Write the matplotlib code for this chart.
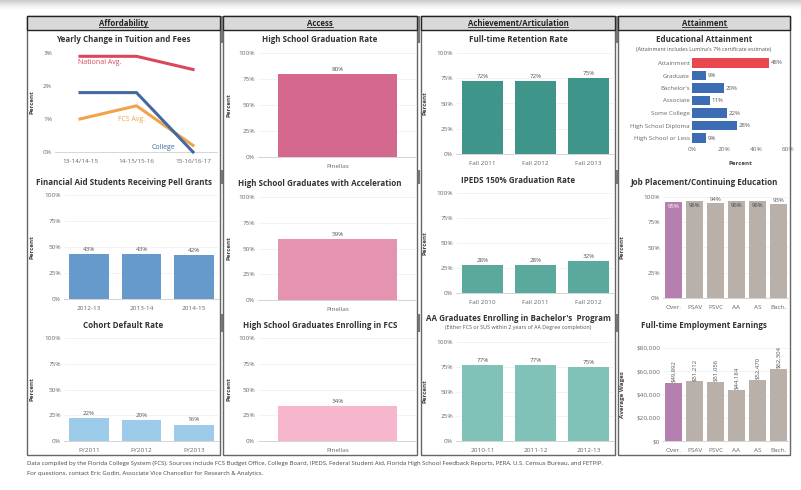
import matplotlib
matplotlib.use("Agg")
import matplotlib.pyplot as plt
from matplotlib.patches import Rectangle
import numpy as np

plt.rcParams['font.family'] = ['Open Sans', 'DejaVu Sans']

W, H = 801, 490

# ---- data ----
tuition_years = ["13-14/14-15", "14-15/15-16", "15-16/16-17"]
tuition_national = [2.9, 2.9, 2.5]
tuition_college = [1.8, 1.8, 0.0]
tuition_fcs = [1.0, 1.4, 0.2]

pell_years = ["2012-13", "2013-14", "2014-15"]
pell_pct = [43, 43, 42]

default_years = ["FY2011", "FY2012", "FY2013"]
default_pct = [22, 20, 16]

county = ["Pinellas"]
hs_grad_pct = [80]
hs_accel_pct = [59]
hs_fcs_pct = [34]

retention_years = ["Fall 2011", "Fall 2012", "Fall 2013"]
retention_pct = [72, 72, 75]

ipeds_years = ["Fall 2010", "Fall 2011", "Fall 2012"]
ipeds_pct = [28, 28, 32]

aa_years = ["2010-11", "2011-12", "2012-13"]
aa_pct = [77, 77, 75]

attain_levels = ["Attainment", "Graduate", "Bachelor's", "Associate",
                 "Some College", "High School Diploma", "High School or Less"]
attain_pct = [48, 9, 20, 11, 22, 28, 9]

award_types = ["Over.", "PSAV", "PSVC", "AA", "AS", "Bach."]
placement_pct = [95, 96, 94, 96, 96, 93]
earnings = [49892, 51212, 51056, 44184, 52470, 62304]

footnote1 = ("Data compiled by the Florida College System (FCS). Sources include FCS Budget Office, "
             "College Board, IPEDS, Federal Student Aid, Florida High School Feedback Reports, PERA, "
             "U.S. Census Bureau, and FETPIP.")
footnote2 = "For questions, contact Eric Godin, Associate Vice Chancellor for Research & Analytics."

TICK = '#666666'
LBL = '#555555'
TITLE = '#333333'

fig = plt.figure(figsize=(W / 100, H / 100), dpi=100)
fig.patch.set_facecolor('white')

# background axes in pixel coordinates (y down)
bg = fig.add_axes([0, 0, 1, 1], zorder=-5)
bg.set_xlim(0, W)
bg.set_ylim(H, 0)
bg.axis('off')


def box(x0, y0, x1, y1):
    ax = fig.add_axes([x0 / W, 1 - y1 / H, (x1 - x0) / W, (y1 - y0) / H])
    ax.patch.set_alpha(0)
    return ax


def style(ax):
    for s in ax.spines.values():
        s.set_visible(False)
    ax.tick_params(length=0, labelsize=4.6, colors=TICK, pad=2)
    ax.grid(axis='y', color='#eeeeee', lw=0.5)
    ax.set_axisbelow(True)


def value_axes(x0, x1, ytop, ybot, vmax, pad=4):
    # ytop = pixel of vmax, ybot = pixel of 0
    ax = box(x0, ytop - pad, x1, ybot + pad)
    k = vmax / (ybot - ytop)
    ax.set_ylim(-pad * k, vmax + pad * k)
    style(ax)
    ax.axhline(0, color='#d0d0d0', lw=0.6, zorder=1)
    return ax


def ylab(ax, text, px):
    pos = ax.get_position()
    frac = (px / W - pos.x0) / pos.width
    ax.set_ylabel(text, fontsize=4.5, color='#444444', fontweight='bold')
    ax.yaxis.set_label_coords(frac, 0.5)


def pct_ticks(ax):
    ticks = [0, 25, 50, 75, 100]
    ax.set_yticks(ticks)
    ax.set_yticklabels([f"{t}%" for t in ticks])


def vbars(ax, cats, vals, color, x0, x1, c0, pitch, width, fmt="{:.0f}%"):
    xs = np.arange(len(cats))
    ax.bar(xs, vals, width=width, color=color, zorder=2)
    ax.set_xlim((x0 - c0) / pitch, (x1 - c0) / pitch)
    ax.set_xticks(xs)
    ax.set_xticklabels(cats)
    for x, v in zip(xs, vals):
        ax.text(x, v + 2, fmt.format(v), ha='center', va='bottom', fontsize=4.5, color=LBL)


def title(cx, y, s, size=5.8):
    bg.text(cx, y, s, ha='center', va='center', fontsize=size, color=TITLE, fontweight='bold')


# ---- frame ----
grad = np.linspace(0.32, 0.0, 30).reshape(-1, 1)
bg.imshow(grad, extent=[0, W, 10, 0], aspect='auto', cmap='Greys', vmin=0, vmax=1, zorder=0)

panels = [(27, 220, "Affordability"), (223, 417, "Access"),
          (421, 615, "Achievement/Articulation"), (618, 790, "Attainment")]
renderer = fig.canvas.get_renderer()
for x0, x1, name in panels:
    bg.add_patch(Rectangle((x0, 16), x1 - x0, 455 - 16, fill=False, ec='#666666', lw=1.0))
    bg.add_patch(Rectangle((x0, 16), x1 - x0, 14, fc='#d9d9d9', ec='#222222', lw=1.0))
    t = bg.text((x0 + x1) / 2, 23, name, ha='center', va='center', fontsize=5.6,
                color='#222222', fontweight='bold')
    bb = t.get_window_extent(renderer=renderer)
    (ux0, _), (ux1, _) = bg.transData.inverted().transform([[bb.x0, bb.y0], [bb.x1, bb.y0]])
    bg.plot([ux0, ux1], [27.5, 27.5], color='#222222', lw=0.6)

for xs in [221.5, 419.3, 616.5]:
    for ya, yb in [(16, 43), (170, 184), (314, 332)]:
        bg.plot([xs, xs], [ya, yb], color='#777777', lw=1.6, solid_capstyle='butt')

# ---- Affordability ----
cx = (27 + 220) / 2
title(cx, 40, "Yearly Change in Tuition and Fees")
ax = value_axes(55, 218, 53, 152, 3)
xs = np.arange(len(tuition_years))
ax.plot(xs, tuition_national, color='#d9475c', lw=2.2)
ax.plot(xs, tuition_fcs, color='#f2a34a', lw=2.2)
ax.plot(xs, tuition_college, color='#44699f', lw=2.2)
ax.set_xlim((55 - 80) / 56.5, (218 - 80) / 56.5)
ax.set_xticks(xs)
ax.set_xticklabels(tuition_years)
ax.set_yticks([0, 1, 2, 3])
ax.set_yticklabels(["0%", "1%", "2%", "3%"])
ax.grid(False)
ax.text(-0.03, 2.72, "National Avg.", color='#d9475c', fontsize=5, va='center')
ax.text(0.67, 1.0, "FCS Avg.", color='#f2a34a', fontsize=5, va='center')
ax.text(1.27, 0.15, "College", color='#44699f', fontsize=5, va='center')
ylab(ax, "Percent", 35)

title(cx, 182, "Financial Aid Students Receiving Pell Grants")
ax = value_axes(64, 220, 195, 299, 100)
vbars(ax, pell_years, pell_pct, '#6699cc', 64, 220, 89, 52.5, 0.76)
pct_ticks(ax)
ylab(ax, "Percent", 35)

title(cx, 325, "Cohort Default Rate")
ax = value_axes(64, 220, 338, 441, 100)
vbars(ax, default_years, default_pct, '#9dcbea', 64, 220, 89, 52.5, 0.76)
pct_ticks(ax)
ylab(ax, "Percent", 35)

# ---- Access ----
cx = (223 + 417) / 2
for (ytitle, y100, y0, vals, color, txt) in [
        (40, 53, 157, hs_grad_pct, '#d4688e', "High School Graduation Rate"),
        (183, 197, 300, hs_accel_pct, '#e493b0', "High School Graduates with Acceleration"),
        (325, 338, 441, hs_fcs_pct, '#f6b6cd', "High School Graduates Enrolling in FCS")]:
    title(cx, ytitle, txt)
    ax = value_axes(258, 417, y100, y0, 100)
    vbars(ax, county, vals, color, 258, 417, 337.5, 159, 0.75)
    pct_ticks(ax)
    ylab(ax, "Percent", 232)

# ---- Achievement/Articulation ----
cx = (421 + 615) / 2
title(cx, 40, "Full-time Retention Rate")
ax = value_axes(456, 615, 53, 154, 100)
vbars(ax, retention_years, retention_pct, '#3f958a', 456, 615, 482.5, 53, 0.77)
pct_ticks(ax)
ylab(ax, "Percent", 428)

title(cx, 180, "IPEDS 150% Graduation Rate")
ax = value_axes(456, 615, 193, 293, 100)
vbars(ax, ipeds_years, ipeds_pct, '#5aa99d', 456, 615, 482.5, 53, 0.77)
pct_ticks(ax)
ylab(ax, "Percent", 428)

title(cx, 318, "AA Graduates Enrolling in Bachelor's  Program")
bg.text(cx, 327.5, "(Either FCS or SUS within 2 years of AA Degree completion)", ha='center',
        va='center', fontsize=3.9, color='#555555')
ax = value_axes(456, 615, 342, 441, 100)
vbars(ax, aa_years, aa_pct, '#80c2b7', 456, 615, 482.5, 53, 0.77)
pct_ticks(ax)
ylab(ax, "Percent", 428)

# ---- Attainment ----
cx = (618 + 790) / 2
title(cx, 40, "Educational Attainment")
bg.text(cx, 50, "(Attainment includes Lumina's 7% certificate estimate)", ha='center',
        va='center', fontsize=3.9, color='#555555')
ax = box(692, 56.75, 788, 144.25)
style(ax)
ax.grid(False)
ys = np.arange(len(attain_levels))
colors = ['#e8484e'] + ['#3c6db4'] * (len(attain_levels) - 1)
ax.barh(ys, attain_pct, height=0.76, color=colors, zorder=2)
ax.set_ylim(len(attain_levels) - 0.5, -0.5)
ax.set_xlim(0, 60)
ax.set_yticks(ys)
ax.set_yticklabels(attain_levels, fontsize=4.4)
ax.set_xticks([0, 20, 40, 60])
ax.set_xticklabels(["0%", "20%", "40%", "60%"])
ax.tick_params(axis='y', pad=1.5)
for y, v in zip(ys, attain_pct):
    ax.text(v + 1, y, f"{v}%", va='center', ha='left', fontsize=4.4, color=LBL)
bg.text(740, 163, "Percent", ha='center', va='center', fontsize=4.5, color='#444444',
        fontweight='bold')

title(cx, 182, "Job Placement/Continuing Education")
ax = value_axes(663, 789, 197, 298, 100)
xs = np.arange(len(award_types))
bar_colors = ['#b57fb0'] + ['#bab0aa'] * (len(award_types) - 1)
ax.bar(xs, placement_pct, width=0.81, color=bar_colors, zorder=2)
ax.set_xlim(-0.5, len(award_types) - 0.5)
ax.set_xticks(xs)
ax.set_xticklabels(award_types)
pct_ticks(ax)
for i, (x, v) in enumerate(zip(xs, placement_pct)):
    if v >= 95:
        c = 'white' if i == 0 else '#444444'
        ax.text(x, v - 1.5, f"{v}%", ha='center', va='top', fontsize=4.3, color=c, zorder=3)
    else:
        ax.text(x, v + 1.5, f"{v}%", ha='center', va='bottom', fontsize=4.3, color=LBL)
ylab(ax, "Percent", 625)

title(cx, 325, "Full-time Employment Earnings")
ax = value_axes(663, 789, 348, 441, 80000)
ax.bar(xs, earnings, width=0.81, color=bar_colors, zorder=2)
ax.set_xlim(-0.5, len(award_types) - 0.5)
ax.set_xticks(xs)
ax.set_xticklabels(award_types)
ticks = [0, 20000, 40000, 60000, 80000]
ax.set_yticks(ticks)
ax.set_yticklabels([f"${t:,}" for t in ticks])
for x, v in zip(xs, earnings):
    ax.text(x, v + 600, f"${v:,}", ha='center', va='bottom', rotation=90, fontsize=4.3, color=LBL)
ylab(ax, "Average Wages", 625)

# ---- footnote ----
bg.text(27, 463, footnote1, fontsize=4.3, color='#444444', va='center')
bg.text(27, 473, footnote2, fontsize=4.3, color='#444444', va='center')

fig.savefig("out.png", dpi=100)
